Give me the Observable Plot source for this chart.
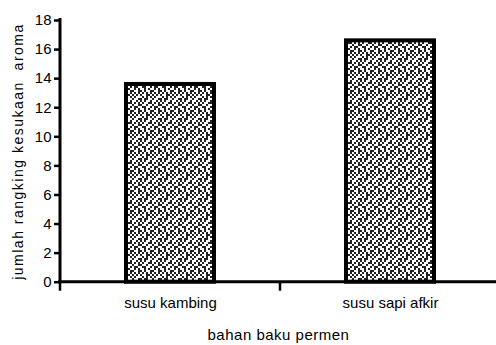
<!DOCTYPE html>
<html><head><meta charset="utf-8">
<script src="https://cdn.jsdelivr.net/npm/d3@7"></script>
<script src="https://cdn.jsdelivr.net/npm/@observablehq/plot@0.6"></script>
<style>
body{margin:0;background:#fff}
svg{display:block}
.ylab{letter-spacing:1.5px}
.xlab{letter-spacing:0.5px}
</style>
</head><body><div id="chart"></div>
<script>
const categories = ["susu kambing", "susu sapi afkir"];
const values = [13.6, 16.6];
const yTicks = [0, 2, 4, 6, 8, 10, 12, 14, 16, 18];
const xLabel = "bahan baku permen";
const yLabel = "jumlah rangking kesukaan  aroma";

const data = categories.map((c, i) => ({kategori: c, nilai: values[i]}));

// custom axis lines + boundary ticks drawn from the scales
const axisLines = (index, scales, vals, dims) => {
  const x = scales.x, y = scales.y;
  const g = d3.create("svg:g").attr("stroke", "#000").attr("fill", "none");
  const y0 = y(0), yTop = y(18);
  const [r0, r1] = x.range();
  g.append("line").attr("x1", r0).attr("x2", r0).attr("y1", yTop - 2).attr("y2", y0 + 1.5).attr("stroke-width", 3);
  g.append("line").attr("x1", r0 - 2).attr("x2", r1).attr("y1", y0).attr("y2", y0).attr("stroke-width", 3);
  const step = x.step(), bw = x.bandwidth();
  const bounds = categories.map(c => x(c) + bw / 2 - step / 2);
  bounds.push(x(categories[categories.length - 1]) + bw / 2 + step / 2);
  for (const b of bounds) {
    g.append("line").attr("x1", b).attr("x2", b).attr("y1", y0).attr("y2", y0 + 9).attr("stroke-width", 2.5);
  }
  return g.node();
};

const plot = Plot.plot({
  width: 496,
  height: 345,
  marginLeft: 60,
  marginRight: 0,
  marginTop: 20,
  marginBottom: 63,
  style: {fontFamily: "'Liberation Sans', Arial, sans-serif", fontSize: "15px", color: "#000", background: "#fff"},
  x: {domain: categories, range: [60, 500], paddingInner: 0.6, paddingOuter: 0.3, label: null},
  y: {domain: [0, 18], range: [281.7, 20], label: null},
  marks: [
    Plot.barY(data, {x: "kategori", y: "nilai", fill: "url(#speckle)", stroke: "#000", strokeWidth: 4}),
    Plot.axisY({ticks: yTicks, tickSize: 6, tickPadding: 3, strokeWidth: 2.5, fontSize: 15, label: null}),
    Plot.axisX({tickSize: 0, tickPadding: 15, fontSize: 15, label: null}),
    axisLines,
    Plot.text([yLabel], {frameAnchor: "left", textAnchor: "middle", dx: -42, rotate: -90, fontSize: 14, fill: "#000", className: "ylab"}),
    Plot.text([xLabel], {frameAnchor: "bottom", dy: 57, fontSize: 15, fill: "#000", className: "xlab"})
  ]
});

// speckle pattern for the bar fill
const tile = [
  "#.#..#..#.",
  ".#..##.#.#",
  "#..#..#..#",
  ".##..#.##.",
  "..#.#..#.#",
  "#.#..##..#",
  ".#.#.#.#.#",
  "#..##.#.#.",
  ".#.#.#.#..",
  "#.##..#..#"
];
const px = 2;
const svg = d3.select(plot);
const pat = svg.insert("defs", ":first-child").append("pattern")
  .attr("id", "speckle").attr("patternUnits", "userSpaceOnUse")
  .attr("width", tile[0].length * px).attr("height", tile.length * px);
pat.append("rect").attr("width", tile[0].length * px).attr("height", tile.length * px).attr("fill", "#fff");
tile.forEach((row, r) => [...row].forEach((ch, c) => {
  if (ch === "#") pat.append("rect").attr("x", c * px).attr("y", r * px).attr("width", px).attr("height", px).attr("fill", "#222");
}));
svg.selectAll(".ylab text").attr("class", "ylab");
svg.selectAll(".xlab text").attr("class", "xlab");
document.getElementById("chart").append(plot);
</script>
</body></html>
